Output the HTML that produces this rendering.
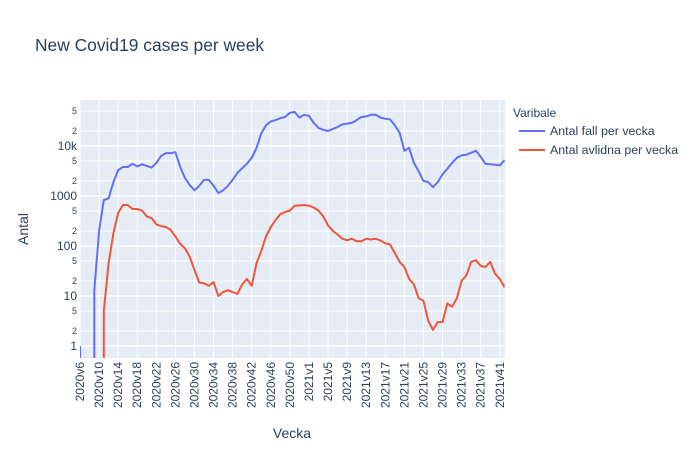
<!DOCTYPE html>
<html><head><meta charset="utf-8"><style>
html,body{margin:0;padding:0;background:#fff;font-family:"Liberation Sans",sans-serif;width:700px;height:450px;overflow:hidden}
svg{display:block}
svg text{font-family:"Liberation Sans",sans-serif;fill:#2a3f5f}
</style></head><body>
<svg id="c" width="700" height="450">
<rect x="0" y="0" width="700" height="450" fill="#fff"/>
<text x="35" y="51" font-size="17.4">New Covid19 cases per week</text>
<rect x="80" y="100" width="425" height="258" fill="#e5ecf6"/>
<g id="grid"></g><g id="yt"></g><g id="xt"></g>
<defs><clipPath id="clip"><rect x="80" y="100" width="425" height="258"/></clipPath></defs>
<g id="lines" clip-path="url(#clip)"></g>
<text x="292" y="438" text-anchor="middle" font-size="14">Vecka</text>
<text x="0" y="0" transform="translate(28,229) rotate(-90)" text-anchor="middle" font-size="14">Antal</text>
<g>
<text x="513" y="117" font-size="12">Varibale</text>
<g><line x1="519" y1="131" x2="545" y2="131" stroke="#636efa" stroke-width="2"/><text x="550" y="135" font-size="12.4">Antal fall per vecka</text></g>
<g><line x1="519" y1="150" x2="545" y2="150" stroke="#ef553b" stroke-width="2"/><text x="550" y="154" font-size="12.4">Antal avlidna per vecka</text></g>
</g>
</svg>
<script>
const fall=[1,0,0,13,200,830,900,1900,3300,3800,3800,4400,3900,4300,4000,3700,4600,6300,7200,7200,7500,3800,2300,1650,1300,1600,2100,2100,1600,1150,1300,1600,2100,2900,3600,4400,5800,9100,18000,26000,31000,33000,36000,38000,46000,48000,37000,42000,40000,29000,23000,21000,20000,22000,24000,27000,28000,29000,33000,38000,39000,42000,42000,37000,35000,34000,26000,18500,8000,9200,4600,3100,2000,1900,1500,1900,2700,3500,4600,5800,6500,6700,7300,8000,6100,4400,4300,4200,4100,5200];
const avlidna=[0,0,0,0,0,5,45,180,460,660,660,550,550,510,390,360,270,250,240,210,155,110,90,61,33,18.5,18,16,19,10,12,13,12,11,17,22,16,45,80,155,240,330,430,480,510,640,650,660,640,590,510,390,260,200,170,140,130,140,125,125,140,135,140,128,113,108,72,48,38,22,17,9,8,3.2,2.1,3,3,7.1,6.1,9,20,26,48,52,40,38,48,28,22,15];
const yMajor=[1,10,100,1000,10000];
const yMajorLabels=["1","10","100","1000","10k"];
const yMinor=[2,5,20,50,200,500,2000,5000,20000,50000];
const NS="http://www.w3.org/2000/svg";
function weekLabel(i){let w=6+i;return w<=53?"2020v"+w:"2021v"+(w-53);}
const X0=80,DX=4.77,YBOT=370;
function xs(i){return X0+DX*i;}
function ys(v){return v<=0?YBOT:346-50*Math.log10(v);}
function mk(tag,attrs,parent){const e=document.createElementNS(NS,tag);for(const k in attrs)e.setAttribute(k,attrs[k]);parent.appendChild(e);return e;}
const grid=document.getElementById('grid'),yt=document.getElementById('yt'),xt=document.getElementById('xt'),lines=document.getElementById('lines');
yMinor.forEach(v=>{const y=ys(v);const l=mk('line',{x1:80,x2:505,y1:y,y2:y,stroke:'#fff','stroke-width':1},grid);


const t=mk('text',{x:77,y:y+3,'text-anchor':'end','font-size':9},yt);t.textContent=String(v).charAt(0);

});
yMajor.forEach((v,k)=>{const y=ys(v);const l=mk('line',{x1:80,x2:505,y1:y,y2:y,stroke:'#fff','stroke-width':1.5},grid);


const t=mk('text',{x:77,y:y+4,'text-anchor':'end','font-size':12},yt);t.textContent=yMajorLabels[k];

});
for(let i=0;i<fall.length;i+=4){const x=xs(i);
const l=mk('line',{x1:x,x2:x,y1:100,y2:358,stroke:'#fff','stroke-width':1},grid);


const t=mk('text',{transform:`translate(${x+4},362) rotate(-90)`,'text-anchor':'end','font-size':12},xt);t.textContent=weekLabel(i);

}
function path(arr,color,name){let d='';let prevValid=null;
arr.forEach((v,i)=>{const x=xs(i).toFixed(1);
if(v<=0){if(prevValid===true){d+='L'+x.replace(/.*/,xs(i-1).toFixed(1))+','+YBOT;}prevValid=false;}
else{const y=ys(v).toFixed(1);
if(prevValid===null)d+='M'+x+','+y;
else if(prevValid===false)d+='M'+x+','+YBOT+'L'+x+','+y;
else d+='L'+x+','+y;
prevValid=true;}});
const p=mk('path',{d:d,fill:'none',stroke:color,'stroke-width':2,'stroke-linejoin':'round'},lines);

}
path(fall,'#636efa','line-antal-fall');
path(avlidna,'#ef553b','line-antal-avlidna');
</script>
</body></html>
